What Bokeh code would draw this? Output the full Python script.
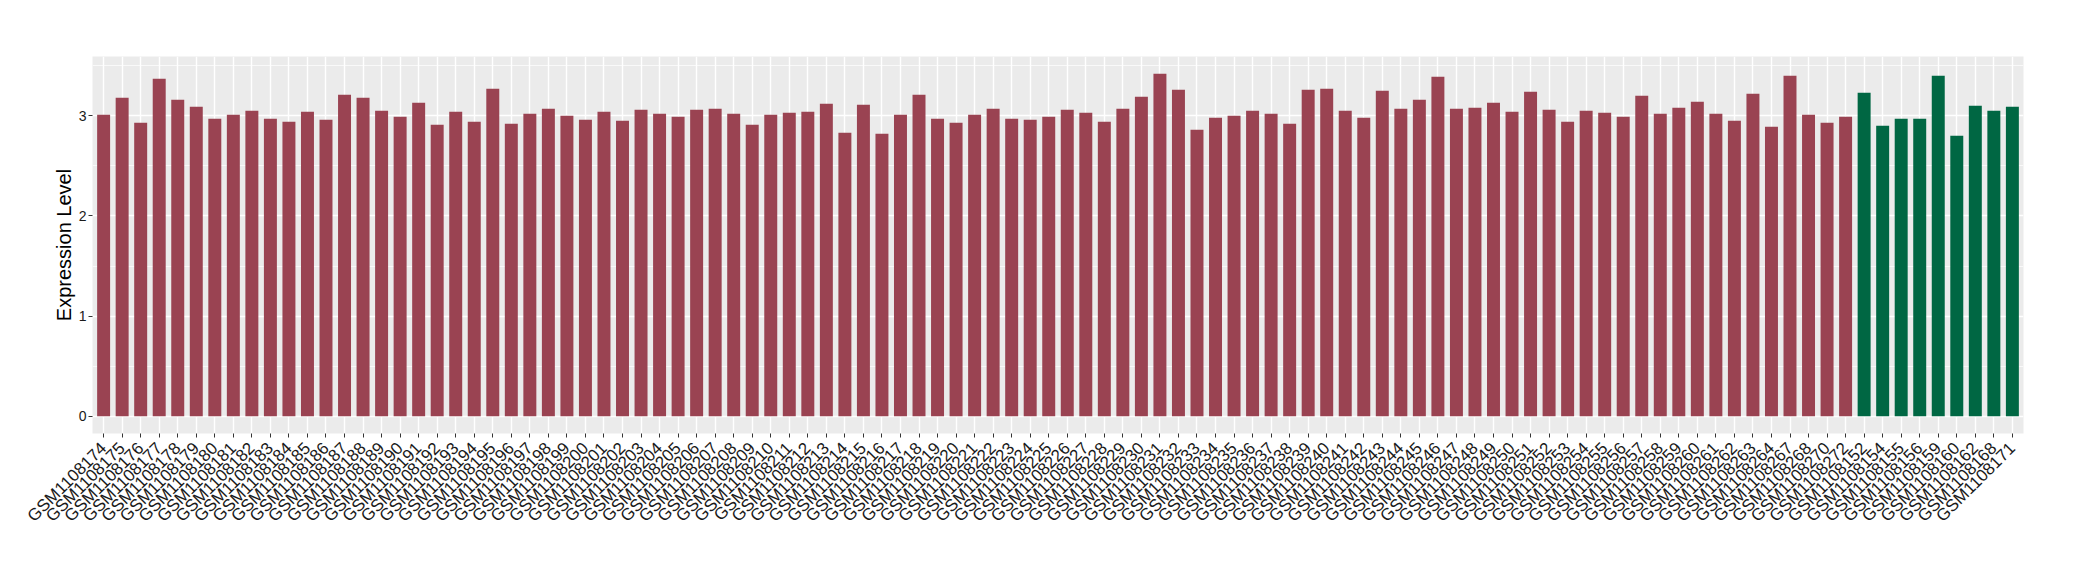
import math
from bokeh.plotting import figure
from bokeh.models import ColumnDataSource, FactorRange, Range1d, FixedTicker
from bokeh.embed import file_html
from bokeh.resources import INLINE

# ---- data ----
red_samples = [
    "GSM1108174", "GSM1108175", "GSM1108176", "GSM1108177", "GSM1108178", "GSM1108179",
    "GSM1108180", "GSM1108181", "GSM1108182", "GSM1108183", "GSM1108184", "GSM1108185",
    "GSM1108186", "GSM1108187", "GSM1108188", "GSM1108189", "GSM1108190", "GSM1108191",
    "GSM1108192", "GSM1108193", "GSM1108194", "GSM1108195", "GSM1108196", "GSM1108197",
    "GSM1108198", "GSM1108199", "GSM1108200", "GSM1108201", "GSM1108202", "GSM1108203",
    "GSM1108204", "GSM1108205", "GSM1108206", "GSM1108207", "GSM1108208", "GSM1108209",
    "GSM1108210", "GSM1108211", "GSM1108212", "GSM1108213", "GSM1108214", "GSM1108215",
    "GSM1108216", "GSM1108217", "GSM1108218", "GSM1108219", "GSM1108220", "GSM1108221",
    "GSM1108222", "GSM1108223", "GSM1108224", "GSM1108225", "GSM1108226", "GSM1108227",
    "GSM1108228", "GSM1108229", "GSM1108230", "GSM1108231", "GSM1108232", "GSM1108233",
    "GSM1108234", "GSM1108235", "GSM1108236", "GSM1108237", "GSM1108238", "GSM1108239",
    "GSM1108240", "GSM1108241", "GSM1108242", "GSM1108243", "GSM1108244", "GSM1108245",
    "GSM1108246", "GSM1108247", "GSM1108248", "GSM1108249", "GSM1108250", "GSM1108251",
    "GSM1108252", "GSM1108253", "GSM1108254", "GSM1108255", "GSM1108256", "GSM1108257",
    "GSM1108258", "GSM1108259", "GSM1108260", "GSM1108261", "GSM1108262", "GSM1108263",
    "GSM1108264", "GSM1108267", "GSM1108268", "GSM1108270", "GSM1108272",
]
red_values = [
    3.01, 3.18, 2.93, 3.37, 3.16, 3.09,
    2.97, 3.01, 3.05, 2.97, 2.94, 3.04,
    2.96, 3.21, 3.18, 3.05, 2.99, 3.13,
    2.91, 3.04, 2.94, 3.27, 2.92, 3.02,
    3.07, 3.00, 2.96, 3.04, 2.95, 3.06,
    3.02, 2.99, 3.06, 3.07, 3.02, 2.91,
    3.01, 3.03, 3.04, 3.12, 2.83, 3.11,
    2.82, 3.01, 3.21, 2.97, 2.93, 3.01,
    3.07, 2.97, 2.96, 2.99, 3.06, 3.03,
    2.94, 3.07, 3.19, 3.42, 3.26, 2.86,
    2.98, 3.00, 3.05, 3.02, 2.92, 3.26,
    3.27, 3.05, 2.98, 3.25, 3.07, 3.16,
    3.39, 3.07, 3.08, 3.13, 3.04, 3.24,
    3.06, 2.94, 3.05, 3.03, 2.99, 3.20,
    3.02, 3.08, 3.14, 3.02, 2.95, 3.22,
    2.89, 3.40, 3.01, 2.93, 2.99,
]
green_samples = [
    "GSM1108152", "GSM1108154", "GSM1108155", "GSM1108156", "GSM1108159",
    "GSM1108160", "GSM1108162", "GSM1108168", "GSM1108171",
]
green_values = [3.23, 2.90, 2.97, 2.97, 3.40, 2.80, 3.10, 3.05, 3.09]

y_ticks = [0, 1, 2, 3]
y_minor_ticks = [0.5, 1.5, 2.5, 3.5]
y_title = "Expression Level"

RED = "#9A4352"
GREEN = "#006743"

samples = red_samples + green_samples
all_values = red_values + green_values
ymax = max(all_values)

p = figure(
    width=2064, height=564,
    x_range=FactorRange(*samples, range_padding=0.1, range_padding_units="absolute"),
    y_range=Range1d(-0.05 * ymax, 1.05 * ymax),
    output_backend="svg", toolbar_location=None,
    min_border_left=92, min_border_top=56, min_border_right=41, min_border_bottom=131,
)
p.background_fill_color = "#EBEBEB"
p.border_fill_color = "white"
p.outline_line_color = None

red_src = ColumnDataSource(dict(x=red_samples, top=red_values))
green_src = ColumnDataSource(dict(x=green_samples, top=green_values))
p.vbar(x="x", top="top", bottom=0, width=0.7, source=red_src, fill_color=RED, line_color=None)
p.vbar(x="x", top="top", bottom=0, width=0.7, source=green_src, fill_color=GREEN, line_color=None)

# grids
p.xgrid.grid_line_color = "white"
p.xgrid.grid_line_width = 1.4
p.ygrid.grid_line_color = "white"
p.ygrid.grid_line_width = 1.4
p.ygrid.minor_grid_line_color = "white"
p.ygrid.minor_grid_line_width = 0.7
p.yaxis.ticker = FixedTicker(ticks=y_ticks, minor_ticks=y_minor_ticks)

# axes
for ax in (p.xaxis[0], p.yaxis[0]):
    ax.axis_line_color = None
    ax.major_tick_line_color = "#333333"
    ax.major_tick_line_width = 1
    ax.major_tick_in = 0
    ax.major_tick_out = 4
    ax.minor_tick_line_color = None
    ax.major_label_text_font = "Liberation Sans"
    ax.major_label_text_color = "#1A1A1A"

p.xaxis.major_label_orientation = math.pi / 4
p.xaxis.major_label_text_font_size = "17px"
p.xaxis.major_label_standoff = 8
p.xaxis.group_text_font_size = "0px"

p.yaxis.major_label_text_font_size = "14px"
p.yaxis.major_label_standoff = 2
p.yaxis.axis_label = y_title
p.yaxis.axis_label_text_font = "Liberation Sans"
p.yaxis.axis_label_text_font_size = "20px"
p.yaxis.axis_label_text_font_style = "normal"
p.yaxis.axis_label_text_color = "black"
p.yaxis.axis_label_standoff = 1

open("out.html", "w").write(file_html(p, INLINE))
